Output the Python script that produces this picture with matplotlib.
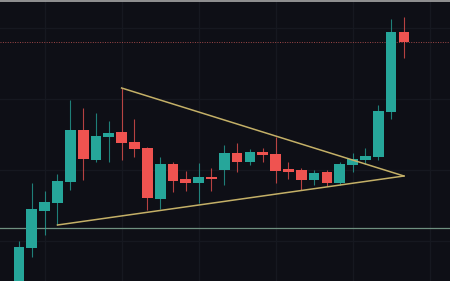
import matplotlib
matplotlib.use("Agg")
import matplotlib.pyplot as plt

# OHLC series (price units)
opens  = [-4, 33, 70, 78, 99, 151, 121, 144, 149, 139, 133, 82, 117, 102, 98, 104, 111, 128, 119, 129, 127, 112, 111, 101, 109, 98, 116, 121, 124, 169, 249]
highs  = [40, 98, 90, 107, 181, 173, 168, 160, 193, 162, 134, 124, 119, 110, 118, 113, 136, 138, 132, 133, 144, 119, 113, 111, 111, 119, 128, 133, 176, 262, 264]
lows   = [-9, 24, 46, 56, 91, 101, 119, 119, 121, 124, 71, 72, 89, 90, 78, 90, 96, 109, 116, 119, 98, 102, 91, 96, 95, 96, 109, 117, 121, 162, 223]
closes = [34, 72, 79, 100, 151, 122, 145, 148, 138, 132, 83, 117, 100, 98, 104, 102, 128, 119, 129, 126, 110, 109, 101, 108, 98, 117, 122, 125, 170, 249, 239]

# Triangle drawn on the chart: (candle index, price)
triangle_x = [8, 30, 3]
triangle_y = [193, 105, 56]

support_level = 53
last_price = closes[-1]

BG = "#0e0f16"
UP = "#26a69a"
DOWN = "#ef5350"

fig = plt.figure(figsize=(4.5, 2.81), dpi=100, facecolor=BG)
ax = fig.add_axes([0, 0, 1, 1], facecolor=BG)

step = 12.83
ax.set_xlim(-19 / step, (450 - 19) / step)
ax.set_ylim(0, 281)

# faint grid
ax.set_xticks([2, 8, 14, 20, 26, 32])
ax.set_yticks([40, 111, 182, 253])
ax.grid(True, color="#161820", linewidth=0.9)
ax.tick_params(length=0, labelbottom=False, labelleft=False)
for s in ax.spines.values():
    s.set_visible(False)

# horizontal levels
ax.axhline(support_level, color="#6f9080", linewidth=0.9, zorder=2)
ax.axhline(last_price, color="#a04848", linewidth=0.7, linestyle=(0, (1, 1.5)), zorder=2)

# candles
width = 0.84
for i, (o, h, l, c) in enumerate(zip(opens, highs, lows, closes)):
    col = UP if c >= o else DOWN
    ax.vlines(i, l, h, color=col, linewidth=0.8, alpha=0.75, zorder=3)
    lo, hi = min(o, c), max(o, c)
    ax.bar(i, max(hi - lo, 1.2), bottom=lo, width=width, color=col, linewidth=0, zorder=4)

# triangle pattern
ax.plot(triangle_x[:2], triangle_y[:2], color="#c4b067", linewidth=1.1, zorder=5)
ax.plot(triangle_x[1:], triangle_y[1:], color="#c4b067", linewidth=1.1, zorder=5)

# top border strip
fig.add_artist(plt.Line2D([0, 1], [0.998, 0.998], transform=fig.transFigure, color="#a8a8a8", linewidth=1.2))

fig.savefig("out.png", dpi=100, facecolor=BG)
